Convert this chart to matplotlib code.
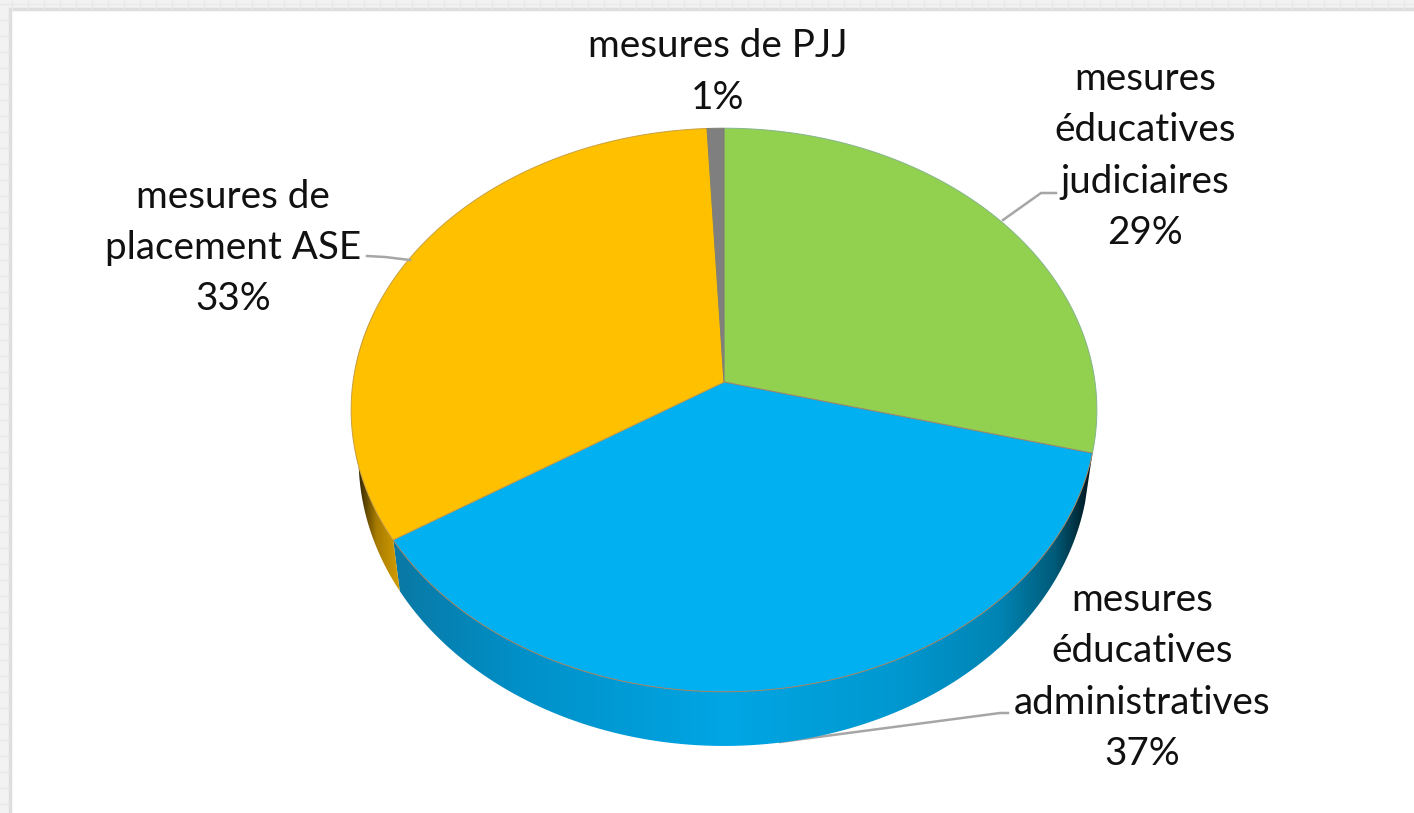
import numpy as np
import matplotlib
matplotlib.use("Agg")
import matplotlib.pyplot as plt
from matplotlib.colors import LinearSegmentedColormap
from matplotlib.patches import Polygon, Rectangle

W, H = 1414, 813

# slices, clockwise from 12 o'clock
labels = ["mesures\néducatives\njudiciaires",
          "mesures\néducatives\nadministratives",
          "mesures de\nplacement ASE",
          "mesures de PJJ"]
values = [29.0, 37.0, 33.2, 0.8]
colors = ["#92D050", "#00B0F0", "#FFC000", "#7F7F7F"]
edges = ["#86B48C", "#A5825F", "#C8A040", "#808070"]

CX, CY = 724, 382
RX, RY, K = 371, 279, 0.0993
DEPTH = 48


def project(theta):
    # circle seen in perspective, theta in radians clockwise from top
    u, v = np.sin(theta), np.cos(theta)
    w = 1 + K * v
    return CX + RX * u / w, CY - RY * v / w


def rim_low(theta):
    x, y = project(theta)
    return CX + 0.98 * (x - CX), CY + 1.02 * (y - CY) + DEPTH


fig = plt.figure(figsize=(W / 100, H / 100), dpi=100)
ax = fig.add_axes([0, 0, 1, 1])
ax.set_xlim(0, W)
ax.set_ylim(H, 0)
ax.axis("off")

# spreadsheet behind the chart
ax.add_patch(Rectangle((0, 0), W, H, fc="#F2F2F2", ec="none"))
for x in range(12, W, 16):
    ax.plot([x, x], [0, 9], color="#E9E9E9", lw=1.0)
for y in range(4, H, 16):
    ax.plot([0, 9], [y, y], color="#E9E9E9", lw=1.0)
ax.plot([0, W], [4, 4], color="#E9E9E9", lw=1.0)
ax.add_patch(Rectangle((9.5, 9.5), W, H, fc="white", ec="#DEDEDE", lw=2.5))

fracs = np.cumsum([0] + values) / sum(values) * 2 * np.pi

# side walls with a horizontal shading
wall_blue = LinearSegmentedColormap.from_list("wb", [
    (0.00, "#0A78A4"), (0.18, "#0090C8"), (0.48, "#00A6E4"), (0.72, "#0098D0"),
    (0.87, "#0084B4"), (0.95, "#005A78"), (1.00, "#00141C")])
wall_orange = LinearSegmentedColormap.from_list("wo", [
    (0.00, "#201800"), (0.45, "#A87C00"), (1.00, "#D8A000")])
ramp = np.linspace(0, 1, 512)[None, :]

for i, cmap, xr in [(1, wall_blue, (392, 1092)), (2, wall_orange, (356, 402))]:
    start, end = fracs[i], min(fracs[i + 1], np.radians(285))
    t = np.linspace(start, end, 300)
    x1, y1 = project(t)
    x2, y2 = rim_low(t)
    pts = np.r_[np.c_[x1, y1], np.c_[x2, y2][::-1]]
    im = ax.imshow(ramp, cmap=cmap, extent=(xr[0], xr[1], 760, 300), aspect="auto", zorder=2)
    clip = Polygon(pts, closed=True, transform=ax.transData)
    im.set_clip_path(clip)
ax.set_xlim(0, W)
ax.set_ylim(H, 0)

# top face
for i in range(len(values)):
    t = np.linspace(fracs[i], fracs[i + 1], 300)
    x, y = project(t)
    pts = np.r_[[[CX, CY]], np.c_[x, y]]
    ax.add_patch(Polygon(pts, closed=True, fc=colors[i], ec=edges[i], lw=0.7, zorder=3))

# leader lines
ax.plot([1003, 1041, 1056], [220, 193, 193], color="#A6A6A6", lw=1.8, zorder=4)
ax.plot([780, 1000, 1008], [742, 713, 713], color="#A6A6A6", lw=1.8, zorder=1.5)
ax.plot([410, 385, 367], [260, 257, 256], color="#A6A6A6", lw=1.8, zorder=4)

# data labels
label_pos = [(1145, 156), (1142, 677), (233, 248), (718, 72)]
for text, val, (x, y) in zip(labels, values, label_pos):
    ax.text(x, y, f"{text}\n{round(val)}%", ha="center", va="center",
            fontsize=27.8, family="Lato", color="#111111", linespacing=1.53, zorder=5)

fig.savefig("out.png", dpi=100)
